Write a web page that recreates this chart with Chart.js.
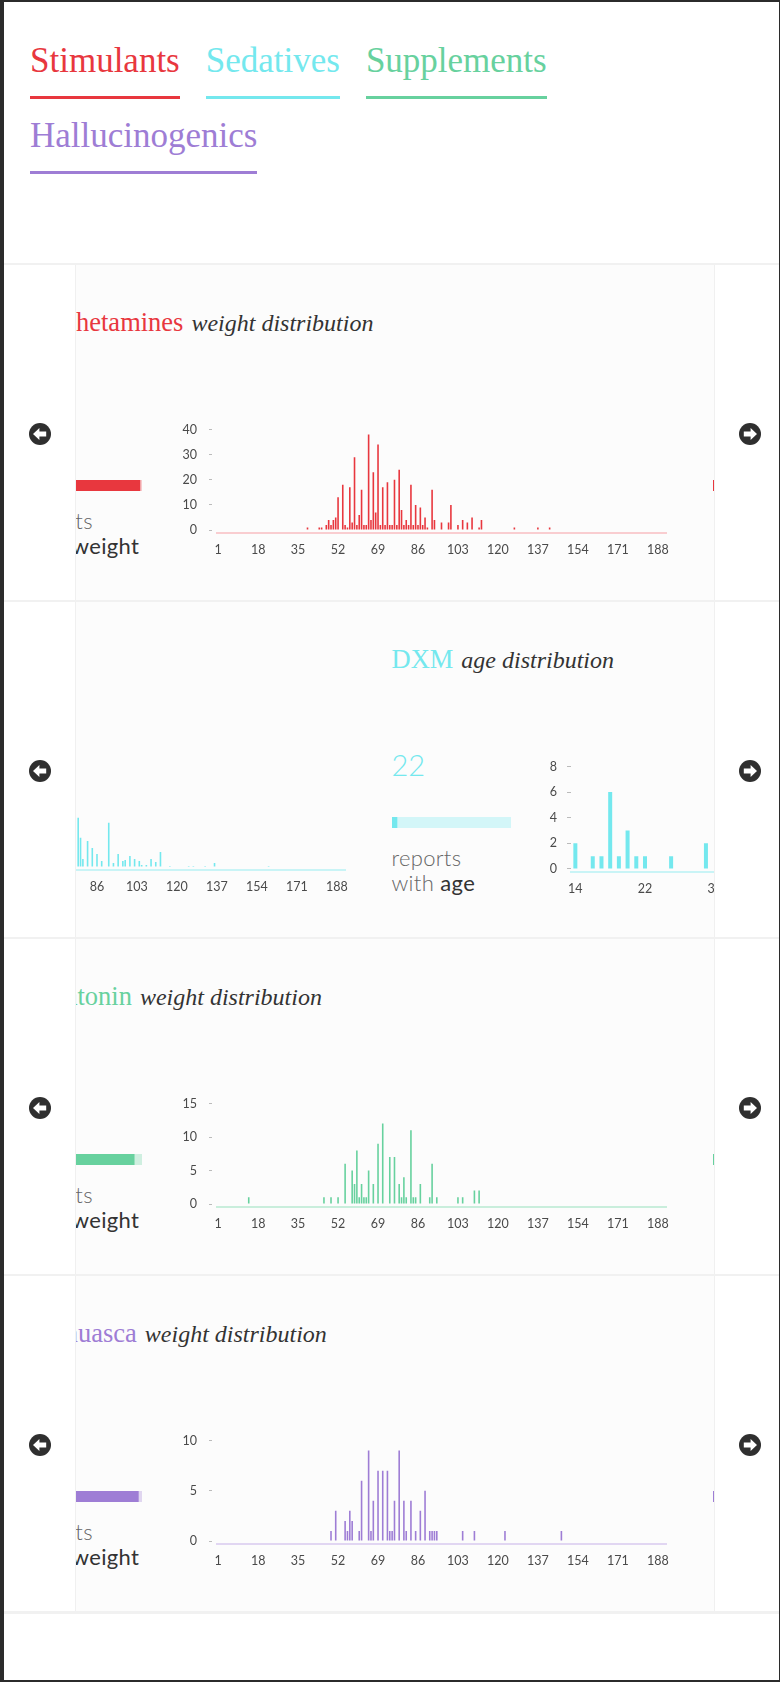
<!DOCTYPE html>
<html>
<head>
<meta charset="utf-8">
<script src="https://cdn.jsdelivr.net/npm/chart.js@4.4.0/dist/chart.umd.min.js"></script>
<style>
html, body { margin: 0; padding: 0; background: #fff; }
body { width: 780px; height: 1682px; position: relative; overflow: hidden; font-family: Lato, sans-serif; }
#frame { position: absolute; left: 0; top: 0; width: 780px; height: 1682px; box-sizing: border-box;
  border-style: solid; border-color: #2b2b2b; border-width: 2px 1px 2px 4px; z-index: 20; pointer-events: none; }
#nav { position: absolute; left: 30px; top: 42.7px; width: 600px; display: flex; flex-wrap: wrap; column-gap: 26px; row-gap: 18.7px; }
#nav a { font-family: "Liberation Serif", serif; font-size: 35px; line-height: 35px; padding-bottom: 18.3px;
  border-bottom: 3px solid; text-decoration: none; white-space: nowrap; }
.sep { position: absolute; left: 0; width: 780px; height: 2px; background: #f1f1f1; }
.row { position: absolute; left: 0; width: 780px; height: 335px; }
.panel { position: absolute; left: 76px; top: 0; width: 638px; height: 335px; overflow: hidden; background: #fcfcfc; }
.vline { position: absolute; top: 0; width: 1px; height: 335px; background: #f0f0f0; }
.arrow { position: absolute; width: 22px; height: 22px; }
.title { position: absolute; white-space: nowrap; line-height: 30px; font-family: "Liberation Serif", serif; }
.title .name { font-size: 26.5px; }
.title i { font-size: 24px; color: #333; margin-left: 4px; }
.big { position: absolute; font-size: 29px; line-height: 30px; font-weight: 300; white-space: nowrap; }
.caption { position: absolute; font-size: 22px; line-height: 25px; font-weight: 300; color: #666; white-space: nowrap; letter-spacing: 0.3px; }
.caption b { font-weight: 400; color: #333; }
canvas { position: absolute; }
</style>
</head>
<body>
<div id="frame"></div>
<div id="nav">
  <a style="color:#e8373e">Stimulants</a>
  <a style="color:#74e8ee">Sedatives</a>
  <a style="color:#67d19e">Supplements</a>
  <a style="color:#9e7dd5">Hallucinogenics</a>
</div>
<div id="page"></div>
<script>
// bins and tick labels
const weightBins = Array.from({ length: 191 }, (_, i) => String(i + 1));
const weightTicks = ['1', '18', '35', '52', '69', '86', '103', '120', '137', '154', '171', '188'];
const ageBins = Array.from({ length: 51 }, (_, i) => String(i + 14));
const ageTicks = ['14', '22', '30', '38', '46', '54', '62'];

// Amphetamines weight distribution (weight bin -> reports)
const amphWeights = [39, 44, 45, 47, 48, 49, 50, 51, 52, 54, 55, 56, 57, 58, 59, 60, 61, 62, 63, 64, 65, 66, 67, 68, 69, 70,
  71, 72, 73, 74, 75, 76, 77, 78, 79, 80, 81, 82, 83, 84, 85, 86, 87, 88, 89, 90, 92, 93, 96, 99, 100, 103, 105, 107, 109,
  112, 113, 127, 137, 142];
const amphCounts = [1, 1, 1, 2, 4, 2, 4, 5, 13, 18, 2, 1, 17, 3, 29, 2, 6, 16, 2, 2, 38, 4, 23, 7, 34, 2,
  17, 2, 19, 2, 2, 20, 2, 24, 8, 2, 4, 2, 18, 2, 10, 2, 9, 2, 5, 1, 16, 4, 3, 3, 10, 2, 4, 3, 5,
  1, 4, 1, 1, 1];
const amphYTicks = [0, 10, 20, 30, 40];

// previous Sedatives slide (only its right part is in view)
const sedWeights = [78, 79, 80, 82, 84, 86, 88, 91, 93, 95, 97, 98, 100, 102, 104, 105, 107, 109, 111, 113, 117, 125, 127, 132, 136, 159];
const sedCounts = [49, 29, 8, 26, 19, 13, 6, 44, 4, 13, 6, 7, 11, 8, 6, 2, 2, 8, 5, 15, 1, 1, 1, 1, 4, 1];
const sedYTicks = [0, 20, 40, 60, 80, 100];

// DXM age distribution
const dxmAges = [14, 16, 17, 18, 19, 20, 21, 22, 25, 29];
const dxmCounts = [2, 1, 1, 6, 1, 3, 1, 1, 1, 2];
const dxmYTicks = [0, 2, 4, 6, 8];

// Melatonin weight distribution
const melaWeights = [14, 46, 49, 52, 55, 58, 59, 60, 61, 62, 63, 64, 65, 67, 69, 71, 74, 76, 78, 79, 80, 81, 83, 84, 85, 87,
  91, 92, 94, 103, 105, 110, 112];
const melaCounts = [1, 1, 1, 1, 6, 5, 3, 8, 1, 3, 1, 1, 5, 3, 9, 12, 7, 7, 3, 1, 4, 1, 11, 1, 1, 3,
  1, 6, 1, 1, 1, 2, 2];
const melaYTicks = [0, 5, 10, 15];

// Ayahuasca weight distribution
const ayaWeights = [49, 51, 55, 56, 57, 58, 61, 62, 65, 66, 67, 69, 71, 73, 74, 75, 76, 78, 80, 81, 83, 85, 87, 89, 91, 92,
  93, 94, 105, 110, 123, 147];
const ayaCounts = [1, 3, 2, 1, 3, 2, 1, 6, 9, 1, 4, 7, 7, 7, 1, 1, 4, 9, 4, 1, 4, 1, 3, 5, 1, 1,
  1, 1, 1, 1, 1, 1];
const ayaYTicks = [0, 5, 10];

// reports with a value / all reports, per row; and the neighbour slides peeking in on the right
const withCounts = [450, 22, 114, 95];
const totalCounts = [458, 524, 122, 98];
const nextWith = [310, 0, 180, 140];
const nextTotal = [320, 1, 190, 150];

const colors = ['#e8373e', '#74e8ee', '#67d19e', '#9e7dd5'];
const lightColors = ['rgba(232,55,62,0.25)', 'rgba(116,232,238,0.3)', 'rgba(103,209,158,0.3)', 'rgba(158,125,213,0.3)'];
const axisColors = ['#f9cdd0', '#c9f4f6', '#c9eedc', '#e1d6f2'];

const ROW_TOP = 265, ROW_H = 337, PANEL_L = 76;
const page = document.getElementById('page');

function el(tag, cls, style, parent) {
  const e = document.createElement(tag);
  if (cls) e.className = cls;
  Object.assign(e.style, style);
  parent.appendChild(e);
  return e;
}

function dense(labels, bins, counts) {
  return labels.map(l => {
    const i = bins.indexOf(Number(l));
    return i < 0 ? 0 : counts[i];
  });
}

function arrowSvg(dir) {
  const flip = dir === 'right' ? ' transform="scale(-1,1)"' : '';
  return '<svg width="22" height="22" viewBox="-11 -11 22 22"><circle r="11" fill="#2f2f2f"/>' +
    '<path' + flip + ' d="M-7 0 L-0.6 -6 L-0.6 -2.4 L6.2 -2.4 L6.2 2.4 L-0.6 2.4 L-0.6 6 Z" fill="#fff"/></svg>';
}

function addRow(k) {
  const top = ROW_TOP + k * ROW_H;
  el('div', 'sep', { top: (top - 2) + 'px' }, page);
  const row = el('div', 'row', { top: top + 'px' }, page);
  el('div', 'vline', { left: '75px' }, row);
  el('div', 'vline', { left: '714px' }, row);
  const l = el('div', 'arrow', { left: '29.3px', top: '157.5px' }, row);
  l.innerHTML = arrowSvg('left');
  const r = el('div', 'arrow', { left: '739px', top: '157.5px' }, row);
  r.innerHTML = arrowSvg('right');
  return el('div', 'panel', {}, row);
}

function histogram(panel, S, kind, labels, values, ticks, yTicks, color, axisColor) {
  const weight = kind === 'weight';
  const yw = 40;
  const areaLeft = S + (weight ? 193.7 : 179.5);
  const areaW = weight ? 448.8 : 443.7;
  const canvas = el('canvas', null, { left: (areaLeft - yw - PANEL_L) + 'px', top: (weight ? 145 : 146.5) + 'px' }, panel);
  canvas.width = Math.round(yw + areaW + 10);
  canvas.height = 153;
  const T = yTicks[yTicks.length - 1];
  const font = { family: 'Lato', size: 12.5 };
  return new Chart(canvas, {
    type: 'bar',
    data: {
      labels,
      datasets: [{
        data: values,
        backgroundColor: color,
        borderWidth: 0,
        barPercentage: weight ? 0.68 : 0.46,
        categoryPercentage: 1
      }]
    },
    options: {
      responsive: false,
      animation: false,
      layout: { padding: { top: 10, right: 10, left: 0, bottom: 0 } },
      plugins: { legend: { display: false }, tooltip: { enabled: false } },
      scales: {
        x: {
          grid: { display: false, drawTicks: false },
          border: { display: true, color: axisColor, width: 2 },
          ticks: {
            autoSkip: false, maxRotation: 0, minRotation: 0, padding: 9,
            color: '#4a4a4a', font,
            callback: (v, i) => ticks.includes(labels[i]) ? labels[i] : ''
          },
          afterFit: s => { s.height = 30; }
        },
        y: {
          min: -3 * T / 101,
          max: T,
          grid: {
            drawOnChartArea: false, tickLength: weight ? 8 : 4, tickColor: '#bbb', tickWidth: 1,
            tickBorderDash: weight ? [3, 30] : []
          },
          border: { display: false },
          ticks: { padding: weight ? 12 : 10, color: '#4a4a4a', font },
          afterBuildTicks: s => { s.ticks = yTicks.map(v => ({ value: v })); },
          afterFit: s => { s.width = yw; }
        }
      }
    }
  });
}

function statBar(panel, S, withN, totalN, color, light) {
  const canvas = el('canvas', null, { left: (S - PANEL_L) + 'px', top: '215px' }, panel);
  canvas.width = 119;
  canvas.height = 11;
  return new Chart(canvas, {
    type: 'bar',
    data: {
      labels: [''],
      datasets: [
        { data: [withN], backgroundColor: color, borderWidth: 0, barPercentage: 1, categoryPercentage: 1 },
        { data: [totalN - withN], backgroundColor: light, borderWidth: 0, barPercentage: 1, categoryPercentage: 1 }
      ]
    },
    options: {
      indexAxis: 'y',
      responsive: false,
      animation: false,
      layout: { padding: 0 },
      plugins: { legend: { display: false }, tooltip: { enabled: false } },
      scales: {
        x: { display: false, stacked: true, min: 0, max: totalN },
        y: { display: false, stacked: true }
      }
    }
  });
}

function slideText(panel, S, name, what, count, color) {
  const t = el('div', 'title', { left: (S - PANEL_L) + 'px', top: '41.7px' }, panel);
  t.innerHTML = '<span class="name" style="color:' + color + '">' + name + '</span> <i>' + what + ' distribution</i>';
  const b = el('div', 'big', { left: (S - PANEL_L) + 'px', top: '147.8px', color: color }, panel);
  b.textContent = count;
  const c = el('div', 'caption', { left: (S - PANEL_L) + 'px', top: '243px' }, panel);
  c.innerHTML = 'reports<br>with <b>' + what + '</b>';
}

// row 1: Stimulants
let p = addRow(0);
slideText(p, 23, 'Amphetamines', 'weight', withCounts[0], colors[0]);
statBar(p, 23, withCounts[0], totalCounts[0], colors[0], lightColors[0]);
histogram(p, 23, 'weight', weightBins, dense(weightBins, amphWeights, amphCounts), weightTicks, amphYTicks, colors[0], axisColors[0]);
statBar(p, 712.5, nextWith[0], nextTotal[0], colors[0], lightColors[0]);

// row 2: Sedatives
p = addRow(1);
histogram(p, -298, 'weight', weightBins, dense(weightBins, sedWeights, sedCounts), weightTicks, sedYTicks, colors[1], axisColors[1]);
slideText(p, 391.5, 'DXM', 'age', withCounts[1], colors[1]);
statBar(p, 391.5, withCounts[1], totalCounts[1], colors[1], lightColors[1]);
histogram(p, 391.5, 'age', ageBins, dense(ageBins, dxmAges, dxmCounts), ageTicks, dxmYTicks, colors[1], axisColors[1]);

// row 3: Supplements
p = addRow(2);
slideText(p, 23, 'Melatonin', 'weight', withCounts[2], colors[2]);
statBar(p, 23, withCounts[2], totalCounts[2], colors[2], lightColors[2]);
histogram(p, 23, 'weight', weightBins, dense(weightBins, melaWeights, melaCounts), weightTicks, melaYTicks, colors[2], axisColors[2]);
statBar(p, 712.5, nextWith[2], nextTotal[2], colors[2], lightColors[2]);

// row 4: Hallucinogenics
p = addRow(3);
slideText(p, 23, 'Ayahuasca', 'weight', withCounts[3], colors[3]);
statBar(p, 23, withCounts[3], totalCounts[3], colors[3], lightColors[3]);
histogram(p, 23, 'weight', weightBins, dense(weightBins, ayaWeights, ayaCounts), weightTicks, ayaYTicks, colors[3], axisColors[3]);
statBar(p, 712.5, nextWith[3], nextTotal[3], colors[3], lightColors[3]);

el('div', 'sep', { top: (ROW_TOP + 4 * ROW_H - 2) + 'px', height: '3px' }, page);
</script>
</body>
</html>
